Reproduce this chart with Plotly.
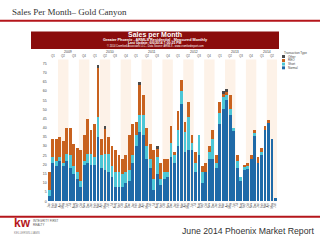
import plotly.graph_objects as go

# ---- data (Jan 2009 .. Jun 2014) ----
years = ["2009", "2010", "2011", "2012", "2013", "2014"]
month_abbr = ["Jan", "Feb", "Mar", "Apr", "May", "Jun", "Jul", "Aug", "Sep", "Oct", "Nov", "Dec"]
quarters = ["Q1", "Q2", "Q3", "Q4"]

normal = [3, 21, 19, 22, 19, 22, 18, 15, 12, 8, 20, 21,
          20, 20, 35, 18, 17, 16, 13, 8, 8, 8, 10, 11,
          21, 30, 38, 36, 23, 18, 6, 15, 9, 12, 13, 24,
          21, 30, 53, 27, 28, 28, 16, 25, 10, 16, 23, 23,
          18, 42, 50, 55, 47, 39, 18, 11, 17, 18, 23, 36,
          21, 26, 39, 43, 34, 2]
short = [3, 3, 3, 2, 2, 4, 7, 4, 4, 3, 2, 5,
         6, 4, 11, 7, 9, 10, 6, 8, 8, 7, 6, 6,
         4, 6, 9, 11, 7, 5, 6, 9, 3, 4, 3, 8,
         4, 9, 7, 11, 18, 4, 5, 11, 6, 0, 4, 11,
         3, 6, 7, 3, 3, 1, 4, 2, 2, 1, 0, 1,
         0, 1, 0, 0, 0, 0]
reo = [10, 10, 12, 11, 12, 14, 15, 12, 13, 17, 14, 19,
       13, 18, 27, 9, 14, 9, 11, 12, 9, 8, 9, 19,
       17, 7, 17, 11, 10, 8, 16, 5, 9, 7, 7, 9,
       2, 10, 6, 5, 8, 4, 6, 0, 3, 5, 3, 5,
       4, 6, 2, 2, 8, 0, 3, 0, 1, 2, 2, 2,
       3, 2, 2, 1, 0, 0]
other = [0, 0, 0, 0, 0, 0, 0, 0, 0, 0, 0, 0,
         0, 0, 1, 0, 1, 0, 0, 0, 0, 0, 0, 0,
         0, 0, 1, 0, 0, 0, 0, 1, 0, 0, 0, 0,
         0, 0, 0, 0, 0, 0, 0, 0, 0, 0, 0, 0,
         0, 0, 1, 1, 0, 0, 0, 0, 0, 0, 0, 0,
         0, 0, 0, 0, 0, 0]
y_ticks = list(range(0, 80, 5))

n = len(normal)
idx = list(range(n))
tick_text = [month_abbr[i % 12] for i in idx]

series = [("Normal", normal, "#1f6aa8"),
          ("Short", short, "#4cc6d6"),
          ("REO", reo, "#c8621f"),
          ("Other", other, "#4a4a4a")]

W, H = 320, 240
def py(p):  # pixel y -> paper y
    return 1 - p / H
def px(p):
    return p / W

def note(x, y, text, size, color="#444", family="Liberation Sans", xanchor="center",
         xref="paper", align="center"):
    return dict(xref=xref, yref="paper", x=x, y=y, text=text, showarrow=False,
                xanchor=xanchor, yanchor="middle", align=align,
                font=dict(size=size, color=color, family=family))

fig = go.Figure()
for name, vals, col in series:
    fig.add_trace(go.Bar(x=idx, y=vals, name=name, marker_color=col,
                         marker_line_width=0, showlegend=False))

shapes = []
annotations = []

# quarter shading (Q2, Q4) and quarter labels
for i in range(0, n, 3):
    q = (i % 12) // 3
    if q in (1, 3):
        shapes.append(dict(type="rect", xref="x", yref="y domain", x0=i - 0.5,
                           x1=min(i + 2.5, n - 0.5), y0=0, y1=1,
                           fillcolor="#fdf2e8", line_width=0, layer="below"))
    annotations.append(note(i + 1, py(56.8), quarters[q], 3, "#555", xref="x"))

for yi, yr in enumerate(years):
    start = yi * 12
    end = min(start + 11, n - 1)
    annotations.append(note((start + end) / 2, py(52.8), yr, 3.5, "#444", xref="x"))

# slide title and rules
annotations.append(note(px(10), py(12), "Sales Per Month\u2013 Gold Canyon", 9, "#333",
                        family="Liberation Serif, Times New Roman, serif", xanchor="left"))
shapes.append(dict(type="line", xref="paper", yref="paper", x0=0, x1=1, y0=py(20.8), y1=py(20.8),
                   line=dict(color="#b5161b", width=2)))
shapes.append(dict(type="line", xref="paper", yref="paper", x0=0, x1=1, y0=py(218.5), y1=py(218.5),
                   line=dict(color="#b5161b", width=2)))

# chart header box
shapes.append(dict(type="rect", xref="paper", yref="paper", x0=px(31), x1=px(279),
                   y0=py(49.3), y1=py(31.7), fillcolor="#8a0c0c", line_width=0))
annotations += [
    note(px(155), py(35.4), "<b>Sales per Month</b>", 7, "white"),
    note(px(155), py(40), "<b>Greater Phoenix - ARMLS Residential - Measured Monthly</b>", 3.8, "white"),
    note(px(155), py(43.4), "<b>Last Update: 6/6/2014 7:00:25 PM</b>", 3.4, "white"),
    note(px(155), py(46.4),
         "\u00a9 2014 Cromford Associates LLC - Data Source: ARMLS - www.cromfordreport.com", 2.6, "white"),
]

# manual legend
annotations.append(note(px(282), py(53.3), "Transaction Type", 3, "#444", xanchor="left"))
leg_y = [57, 61, 64.6, 68.4]
for (name, vals, col), ly in zip(reversed(series), leg_y):
    shapes.append(dict(type="rect", xref="paper", yref="paper", x0=px(282), x1=px(285),
                       y0=py(ly + 1.5), y1=py(ly - 1.5), fillcolor=col, line_width=0))
    annotations.append(note(px(286), py(ly), name, 3, "#444", xanchor="left"))

# footer
annotations += [
    note(px(12), py(225), "<b>kw</b>", 12, "#b5161b", xanchor="left"),
    note(px(31), py(224.5), "INTEGRITY FIRST<br>REALTY", 3, "#555", xanchor="left", align="left"),
    note(px(12), py(234.5), "KELLERWILLIAMS", 3, "#888", xanchor="left"),
    note(px(316), py(232.5), "June 2014 Phoenix Market Report", 8.7, "#333", xanchor="right"),
]

fig.update_layout(
    width=W, height=H, margin=dict(l=0, r=0, t=0, b=0),
    paper_bgcolor="white", plot_bgcolor="white",
    barmode="stack", bargap=0.2,
    shapes=shapes, annotations=annotations,
    xaxis=dict(domain=[47.6 / W, 277.2 / W], range=[-0.5, n - 0.5],
               tickmode="array", tickvals=idx, ticktext=tick_text, tickangle=-90,
               tickfont=dict(size=3, color="#555", family="Liberation Sans"),
               showgrid=False, zeroline=False, showline=False, ticks=""),
    yaxis=dict(domain=[py(203), py(60)], range=[0, 77.2],
               tickmode="array", tickvals=y_ticks, ticktext=[str(v) for v in y_ticks],
               tickfont=dict(size=3.5, color="#444", family="Liberation Sans"),
               showgrid=False, zeroline=False, showline=False, ticks=""),
)

fig.write_html("out.html")
